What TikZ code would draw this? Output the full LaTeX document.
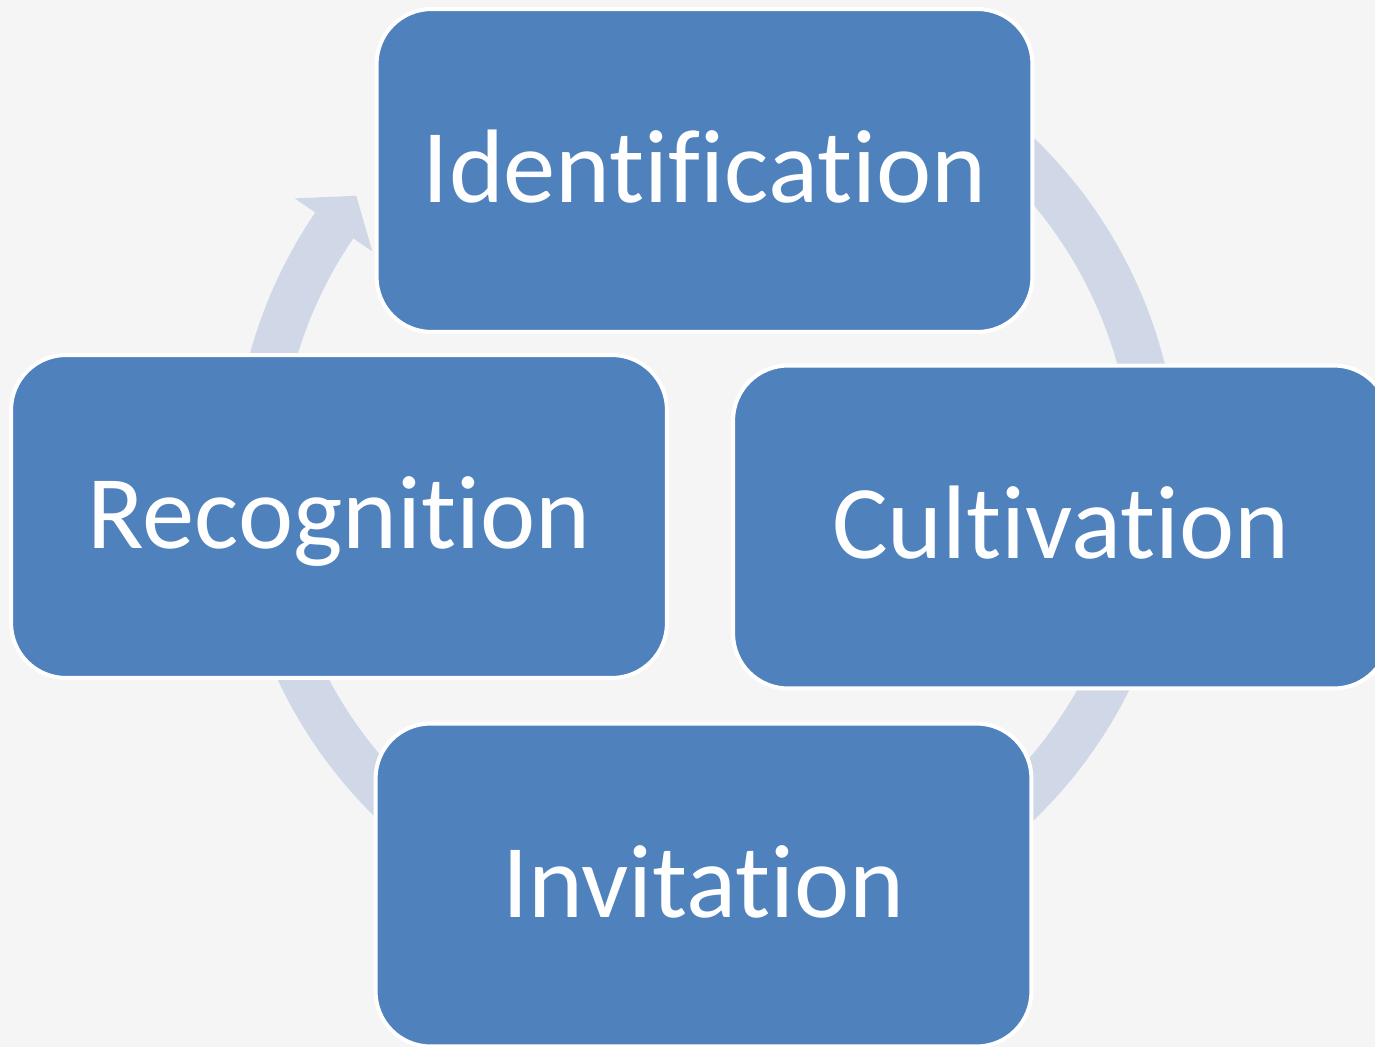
\documentclass[tikz,border=0pt]{standalone}
\usepackage{fontspec}
\setmainfont{Carlito}[Ligatures={NoCommon}]
\usetikzlibrary{calc}
\definecolor{paper}{HTML}{F5F5F5}
\definecolor{boxblue}{HTML}{4F81BD}
\definecolor{ringblue}{HTML}{D0D8E8}
\tikzset{stage/.style={draw=white, line width=0.08cm, fill=boxblue,
    rounded corners=1.1cm, minimum width=13.12cm, minimum height=6.46cm,
    inner sep=0pt, text=white, text height=1.28cm, text depth=0pt,
    font=\fontsize{59.5}{72}\selectfont},
    cyclering/.style={draw=ringblue, line width=0.92cm},
    }

\begin{document}
\begin{tikzpicture}[x=0.02cm,y=-0.02cm]
\useasboundingbox (0,0) rectangle (1375,1047);
\clip (0,0) rectangle (1375,1047);
\fill[paper] (0,0) rectangle (1375,1047);
\coordinate (hub) at (706,479);

% ring and its head, behind the stages
\draw[cyclering] ($(hub)+(-60:450)$) arc[start angle=-60, end angle=214.3, radius=450];
\fill[ringblue] ($(hub)+(214.3:404)$) -- ($(hub)+(219:450)$) -- ($(hub)+(214.3:498)$) -- cycle;

\node[stage] (ident) at (704.5,170.5) {Identification};
\node[stage] (cult)  at (1061,527)    {Cultivation};
\node[stage] (invit) at (703.5,885)   {Invitation};
\node[stage] (recog) at (339,516.5)   {Recognition};
\end{tikzpicture}
\end{document}
